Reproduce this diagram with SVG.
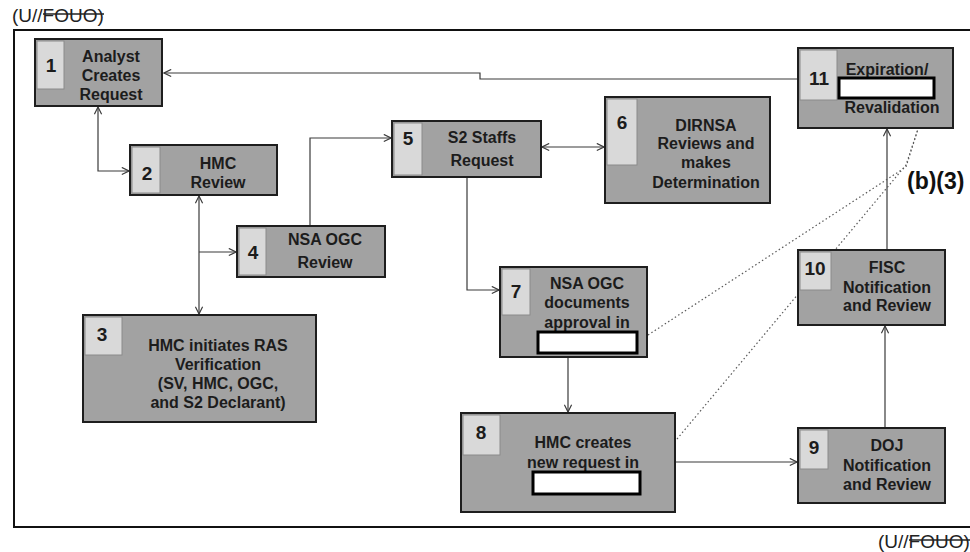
<svg xmlns="http://www.w3.org/2000/svg" width="970" height="552" viewBox="0 0 970 552">
<style>
.box{fill:#a2a2a2;stroke:#1e1e1e;stroke-width:2}
.cell{fill:#d9d9d9;stroke:#8a8a8a;stroke-width:1}
.t{font-family:"Liberation Sans",Arial,sans-serif;font-size:16px;font-weight:bold;fill:#1c1c1c;text-anchor:middle}
.n{font-size:19px}
.red{fill:#fff;stroke:#000;stroke-width:3}
.c{fill:none;stroke:#3a3a3a;stroke-width:1.2}
.d{fill:none;stroke:#5a5a5a;stroke-width:1.2;stroke-dasharray:1.5 2.5}
.frame{fill:none;stroke:#111;stroke-width:2}
.mark{font-family:"Liberation Sans",Arial,sans-serif;font-size:19px;fill:#222}
</style>
<defs>
<marker id="ah" viewBox="0 0 10 10" refX="9" refY="5" markerWidth="9" markerHeight="9" markerUnits="userSpaceOnUse" orient="auto-start-reverse">
<path d="M1,1 L9,5 L1,9" fill="none" stroke="#3a3a3a" stroke-width="1.3"/>
</marker>
</defs>

<g id="classification">
<text class="mark" x="12" y="22">(U//FOUO)</text>
<line x1="43" y1="14" x2="104" y2="14" stroke="#222" stroke-width="1.5"/>
<text class="mark" x="878" y="548">(U//FOUO)</text>
<line x1="909" y1="540" x2="970" y2="540" stroke="#222" stroke-width="1.5"/>
</g>

<path class="frame" d="M13,30 H970 M14,30 V527 H970"/>

<g id="connectors">
<path class="c" d="M798,79 H480 V73 H164" marker-end="url(#ah)"/>
<path class="c" d="M98,107 V171 H129" marker-start="url(#ah)" marker-end="url(#ah)"/>
<path class="c" d="M199,196 V314" marker-start="url(#ah)" marker-end="url(#ah)"/>
<path class="c" d="M199,252 H236" marker-end="url(#ah)"/>
<path class="c" d="M310,226 V138 H391" marker-end="url(#ah)"/>
<path class="c" d="M542,147 H604" marker-start="url(#ah)" marker-end="url(#ah)"/>
<path class="c" d="M467,177 V290 H499" marker-end="url(#ah)"/>
<path class="c" d="M568,357 V412" marker-end="url(#ah)"/>
<path class="c" d="M675,462 H797" marker-end="url(#ah)"/>
<path class="c" d="M885,428 V326" marker-end="url(#ah)"/>
<path class="c" d="M887,250 V129" marker-end="url(#ah)"/>
<path class="d" d="M648,335 L906,167 L918,129"/>
<path class="d" d="M677,439 L906,165 L918,129"/>
</g>

<g id="node1">
<rect class="box" x="35" y="39" width="127" height="67"/>
<rect class="cell" x="37" y="41" width="27" height="48"/>
<text class="t n" x="51" y="72">1</text>
<text class="t" x="111" y="62">Analyst</text>
<text class="t" x="111" y="81">Creates</text>
<text class="t" x="111" y="100">Request</text>
</g>

<g id="node2">
<rect class="box" x="130" y="145" width="147" height="50"/>
<rect class="cell" x="132" y="147" width="28" height="46"/>
<text class="t n" x="147" y="180">2</text>
<text class="t" x="218" y="169">HMC</text>
<text class="t" x="218" y="188">Review</text>
</g>

<g id="node3">
<rect class="box" x="83" y="315" width="233" height="107"/>
<rect class="cell" x="85" y="317" width="37" height="38"/>
<text class="t n" x="102" y="341">3</text>
<text class="t" x="218" y="351">HMC initiates RAS</text>
<text class="t" x="218" y="370">Verification</text>
<text class="t" x="218" y="389">(SV, HMC, OGC,</text>
<text class="t" x="218" y="408">and S2 Declarant)</text>
</g>

<g id="node4">
<rect class="box" x="237" y="226" width="148" height="51"/>
<rect class="cell" x="239" y="228" width="27" height="47"/>
<text class="t n" x="253" y="259">4</text>
<text class="t" x="325" y="245">NSA OGC</text>
<text class="t" x="325" y="268">Review</text>
</g>

<g id="node5">
<rect class="box" x="392" y="121" width="149" height="56"/>
<rect class="cell" x="394" y="123" width="28" height="52"/>
<text class="t n" x="408" y="145">5</text>
<text class="t" x="482" y="143">S2 Staffs</text>
<text class="t" x="482" y="166">Request</text>
</g>

<g id="node6">
<rect class="box" x="605" y="97" width="165" height="106"/>
<rect class="cell" x="607" y="99" width="30" height="66"/>
<text class="t n" x="622" y="129">6</text>
<text class="t" x="706" y="131">DIRNSA</text>
<text class="t" x="706" y="149">Reviews and</text>
<text class="t" x="706" y="168">makes</text>
<text class="t" x="706" y="188">Determination</text>
</g>

<g id="node7">
<rect class="box" x="500" y="267" width="147" height="90"/>
<rect class="cell" x="502" y="269" width="28" height="46"/>
<text class="t n" x="516" y="298">7</text>
<text class="t" x="587" y="289">NSA OGC</text>
<text class="t" x="587" y="308">documents</text>
<text class="t" x="587" y="328">approval in</text>
<rect class="red" x="538" y="332" width="99" height="21"/>
</g>

<g id="node8">
<rect class="box" x="461" y="413" width="214" height="99"/>
<rect class="cell" x="463" y="415" width="37" height="40"/>
<text class="t n" x="481" y="439">8</text>
<text class="t" x="583" y="448">HMC creates</text>
<text class="t" x="583" y="468">new request in</text>
<rect class="red" x="533" y="472" width="107" height="22"/>
</g>

<g id="node9">
<rect class="box" x="798" y="428" width="147" height="75"/>
<rect class="cell" x="800" y="430" width="28" height="39"/>
<text class="t n" x="814" y="454">9</text>
<text class="t" x="887" y="451">DOJ</text>
<text class="t" x="887" y="471">Notification</text>
<text class="t" x="887" y="490">and Review</text>
</g>

<g id="node10">
<rect class="box" x="798" y="250" width="147" height="75"/>
<rect class="cell" x="800" y="252" width="31" height="38"/>
<text class="t n" x="815" y="275">10</text>
<text class="t" x="887" y="273">FISC</text>
<text class="t" x="887" y="293">Notification</text>
<text class="t" x="887" y="311">and Review</text>
</g>

<g id="node11">
<rect class="box" x="798" y="48" width="155" height="80"/>
<rect class="cell" x="800" y="50" width="37" height="50"/>
<text class="t n" x="819" y="85">11</text>
<text class="t" x="887" y="75">Expiration/</text>
<text class="t" x="892" y="113">Revalidation</text>
<rect class="red" x="839" y="78" width="95" height="20"/>
</g>

<text x="907" y="189" font-family="Liberation Sans, Arial, sans-serif" font-size="23" font-weight="bold" fill="#111">(b)(3)</text>
</svg>
